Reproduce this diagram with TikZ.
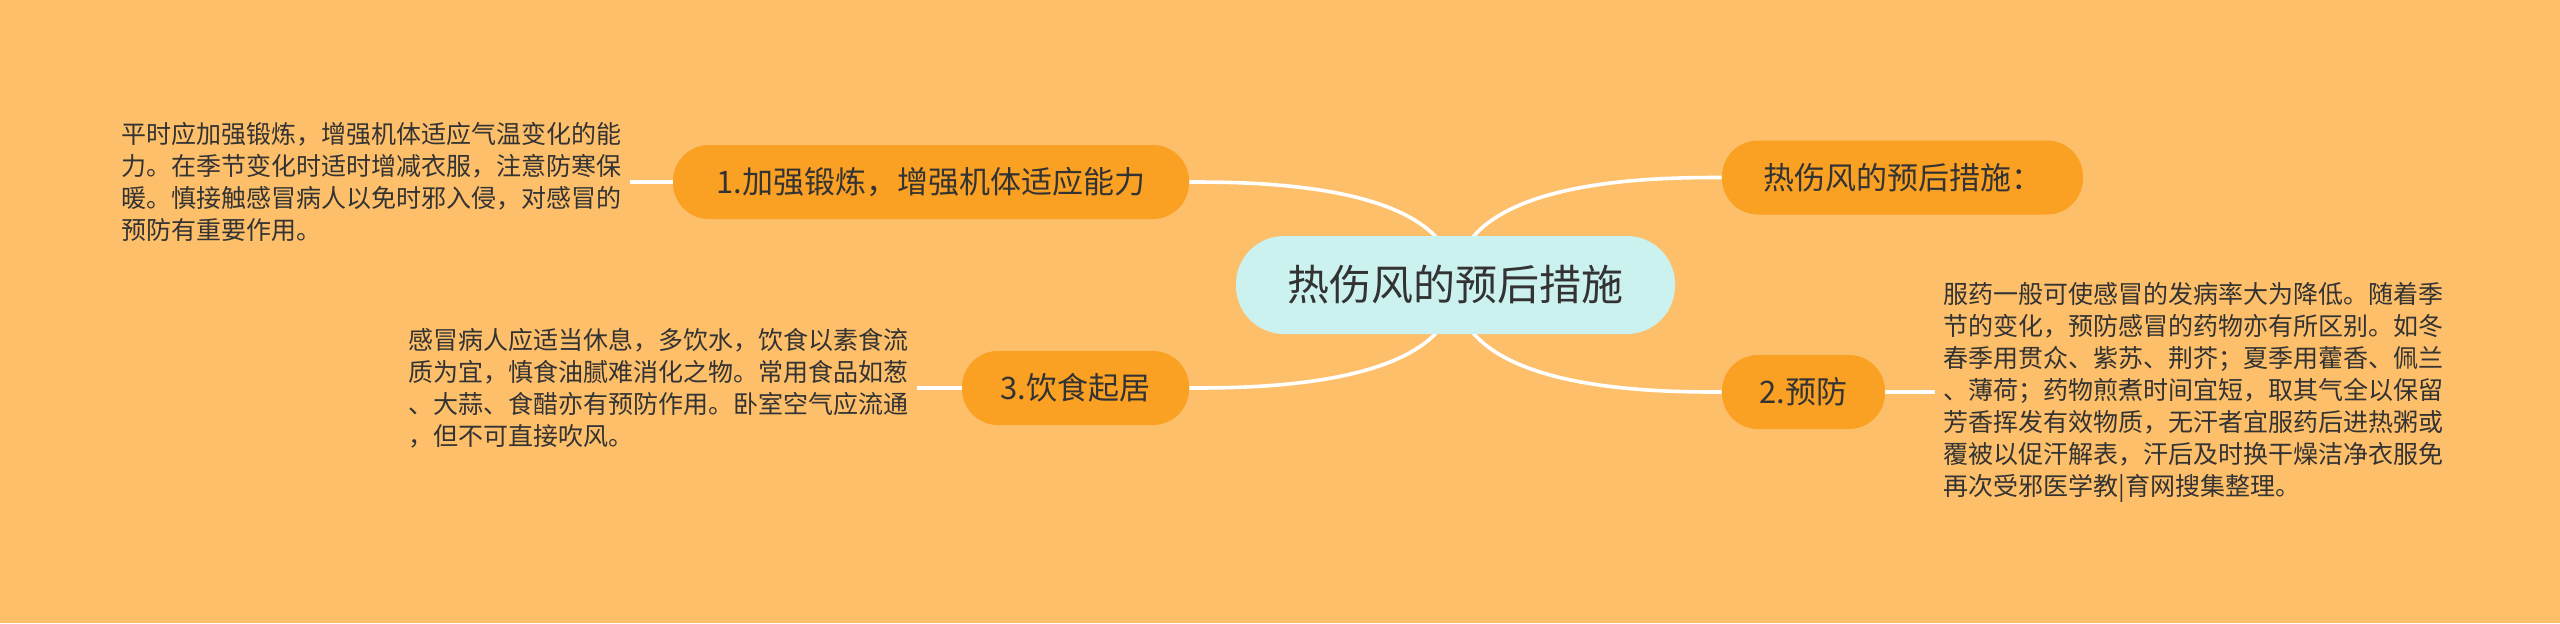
\documentclass[tikz,border=0pt]{standalone}
\usepackage{fontspec}
\newfontfamily\cjk{Noto Sans CJK SC}
\usetikzlibrary{backgrounds}
\definecolor{bg}{HTML}{FDBF6A}
\definecolor{topicfill}{HTML}{FAA023}
\definecolor{rootfill}{HTML}{CCF2EF}
\definecolor{ink}{HTML}{333333}
\begin{document}
\begin{tikzpicture}[x=0.5pt,y=-0.5pt,
  rootnode/.style={rectangle, rounded corners=24pt, fill=rootfill, minimum width=219.5pt, minimum height=49pt, inner sep=0pt, font=\cjk\fontsize{21}{25}\selectfont, text=ink},
  topic/.style={rectangle, rounded corners=18pt, fill=topicfill, minimum height=37pt, inner sep=0pt, font=\cjk\fontsize{15.5}{19}\selectfont, text=ink},
  note/.style={anchor=west, align=left, inner xsep=4pt, inner ysep=0pt, font=\cjk\fontsize{12.5}{16}\selectfont, text=ink},
  link/.style={draw=white, line width=1.8pt}]
\useasboundingbox (0,0) rectangle (2560,623);
\node[rootnode] (root) at (1455.5,285) {热伤风的预后措施};
\node[topic, minimum width=180.5pt] (tr) at (1902.5,177.5) {热伤风的预后措施：};
\node[topic, minimum width=81.5pt] (n2) at (1803.5,392) {2.预防};
\node[topic, minimum width=258pt] (n1) at (931,182) {1.加强锻炼，增强机体适应能力};
\node[topic, minimum width=113.5pt] (n3) at (1075.5,388) {3.饮食起居};
\node[note] (t1) at (113,182) {平时应加强锻炼，增强机体适应气温变化的能\\力。在季节变化时适时增减衣服，注意防寒保\\暖。慎接触感冒病人以免时邪入侵，对感冒的\\预防有重要作用。};
\node[note] (t3) at (400,388) {感冒病人应适当休息，多饮水，饮食以素食流\\质为宜，慎食油腻难消化之物。常用食品如葱\\、大蒜、食醋亦有预防作用。卧室空气应流通\\，但不可直接吹风。};
\node[note] (t2) at (1935,392) {服药一般可使感冒的发病率大为降低。随着季\\节的变化，预防感冒的药物亦有所区别。如冬\\春季用贯众、紫苏、荆芥；夏季用藿香、佩兰\\、薄荷；药物煎煮时间宜短，取其气全以保留\\芳香挥发有效物质，无汗者宜服药后进热粥或\\覆被以促汗解表，汗后及时换干燥洁净衣服免\\再次受邪医学教|育网搜集整理。};
\begin{scope}[on background layer]
\fill[bg] (0,0) rectangle (2560,623);
\draw[link] (root.center) .. controls (root.center |- n1.east) and ([xshift=31.5pt]n1.east) .. (n1.east);
\draw[link] (root.center) .. controls (root.center |- n3.east) and ([xshift=31.5pt]n3.east) .. (n3.east);
\draw[link] (root.center) .. controls (root.center |- tr.west) and ([xshift=-32pt]tr.west) .. (tr.west);
\draw[link] (root.center) .. controls (root.center |- n2.west) and ([xshift=-32pt]n2.west) .. (n2.west);
\draw[link] (t1.east) -- (n1.west);
\draw[link] (n3.west) -- (t3.east);
\draw[link] (n2.east) -- (t2.west);
\end{scope}
\end{tikzpicture}
\end{document}
